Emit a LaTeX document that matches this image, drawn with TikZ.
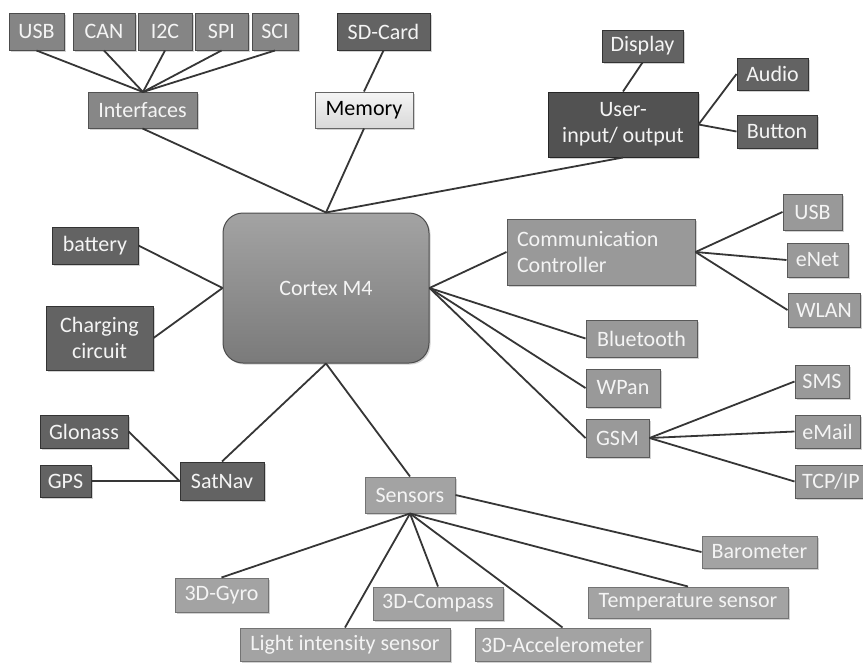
\documentclass[tikz,border=0pt]{standalone}
\usepackage{fontspec}
\setmainfont{Carlito}
\usetikzlibrary{shadows}
\definecolor{lnc}{HTML}{363636}
\definecolor{txw}{HTML}{F4F4F4}
\begin{document}
\begin{tikzpicture}[x=1pt,y=-1pt,
  base/.style={draw=#1,line width=1pt,inner sep=0pt,text=txw,
    font=\fontsize{22}{26}\selectfont,align=center,
    drop shadow={shadow xshift=1.5pt,shadow yshift=-1.5pt,fill=black!22,opacity=0.8}},
  ifbox/.style={base=black!70,fill=black!48},
  inbox/.style={base=black!68,fill=black!47},
  dkbox/.style={base=black!80,fill=black!61},
  uiobox/.style={base=black!85,fill=black!68},
  membox/.style={base=black!60,top color=black!4,bottom color=black!15,text=black},
  cpubox/.style={base=black!70,rounded corners=20pt,top color=black!36,bottom color=black!52},
  combox/.style={base=black!65,fill=black!40},
  senbox/.style={base=black!55,fill=black!36},
  link/.style={draw=lnc,line width=1.8pt}]
\clip (0,0) rectangle (863,662);
\fill[white] (0,0) rectangle (863,662);
% interfaces group
\node[ifbox,minimum width=55pt,minimum height=37pt] (usba) at (36.5,31.5) {USB};
\node[ifbox,minimum width=62pt,minimum height=37pt] (can) at (104,31.5) {CAN};
\node[ifbox,minimum width=54pt,minimum height=37pt] (itc) at (165,31.5) {I2C};
\node[ifbox,minimum width=53pt,minimum height=37pt] (spi) at (221.5,31.5) {SPI};
\node[ifbox,minimum width=46pt,minimum height=37pt] (sci) at (275,31.5) {SCI};
\node[inbox,minimum width=109pt,minimum height=36pt] (intf) at (142.5,110) {Interfaces};
\coordinate (ihub) at (143,92);
% memory
\node[dkbox,minimum width=93pt,minimum height=37pt] (sd) at (383.5,31.5) {SD-Card};
\node[membox,minimum width=98pt,minimum height=36pt] (mem) at (364,110) {Memory};
% user io
\node[dkbox,minimum width=81pt,minimum height=32pt] (disp) at (642.5,46) {Display};
\node[dkbox,minimum width=71pt,minimum height=32pt] (audio) at (772.5,74) {Audio};
\node[dkbox,minimum width=80pt,minimum height=33pt] (button) at (777,131.5) {Button};
\node[uiobox,minimum width=150pt,minimum height=65pt] (uio) at (623,124.5) {User-\\input/ output};
% cortex
\node[cpubox,minimum width=206pt,minimum height=150pt] (cpu) at (326,288) {Cortex M4};
% comm
\node[combox,minimum width=188pt,minimum height=66pt,text width=168pt,inner xsep=10pt,align=left] (comm) at (601,252) {Communication\\Controller};
\node[combox,minimum width=59pt,minimum height=36pt] (usbb) at (812.5,212) {USB};
\node[combox,minimum width=61pt,minimum height=34pt] (enet) at (817.5,260) {eNet};
\node[combox,minimum width=72pt,minimum height=34pt] (wlan) at (824,310) {WLAN};
\node[combox,minimum width=111pt,minimum height=37pt] (bt) at (641.5,338.5) {Bluetooth};
\node[combox,minimum width=74pt,minimum height=38pt] (wpan) at (623,388) {WPan};
\node[combox,minimum width=63pt,minimum height=38pt] (gsm) at (617.5,438) {GSM};
\node[combox,minimum width=54pt,minimum height=33pt] (sms) at (822,381.5) {SMS};
\node[combox,minimum width=65pt,minimum height=33pt] (email) at (827.5,431.5) {eMail};
\node[combox,minimum width=72pt,minimum height=33pt] (tcp) at (831,481.5) {TCP/IP};
% power
\node[dkbox,minimum width=86pt,minimum height=37pt] (bat) at (95,245.5) {battery};
\node[dkbox,minimum width=107pt,minimum height=64pt] (chg) at (99.5,338) {Charging\\circuit};
% satnav
\node[dkbox,minimum width=88pt,minimum height=33pt] (glo) at (84,431.5) {Glonass};
\node[dkbox,minimum width=51pt,minimum height=32pt] (gps) at (65.5,481) {GPS};
\node[dkbox,minimum width=84pt,minimum height=38pt] (sat) at (222,481) {SatNav};
% sensors
\node[senbox,minimum width=90pt,minimum height=36pt] (sens) at (410,495) {Sensors};
\node[senbox,minimum width=115pt,minimum height=32pt] (baro) at (759.5,552) {Barometer};
\node[senbox,minimum width=200pt,minimum height=31pt] (temp) at (688,602.5) {Temperature sensor};
\node[senbox,minimum width=93pt,minimum height=34pt] (gyro) at (221.5,595) {3D-Gyro};
\node[senbox,minimum width=130pt,minimum height=33pt] (comp) at (438,603.5) {3D-Compass};
\node[senbox,minimum width=210pt,minimum height=33pt] (light) at (345,644.5) {Light intensity sensor};
\node[senbox,minimum width=175pt,minimum height=33pt] (acc) at (562.5,644.5) {3D-Accelerometer};
% connectors
\foreach \n in {usba,can,itc,spi,sci} \draw[link] (\n.south) -- (ihub);
\draw[link] (sd.south) -- (mem.north);
\draw[link] (intf.south) -- (cpu.north);
\draw[link] (mem.south) -- (cpu.north);
\draw[link] (uio.south) -- (cpu.north);
\draw[link] (disp.south) -- (uio.north);
\draw[link] (uio.east) -- (audio.west);
\draw[link] (uio.east) -- (button.west);
\draw[link] (cpu.east) -- (comm.west);
\foreach \n in {usbb,enet,wlan} \draw[link] (comm.east) -- (\n.west);
\foreach \n in {bt,wpan,gsm} \draw[link] (cpu.east) -- (\n.west);
\foreach \n in {sms,email,tcp} \draw[link] (gsm.east) -- (\n.west);
\draw[link] (bat.east) -- (cpu.west);
\draw[link] (chg.east) -- (cpu.west);
\draw[link] (cpu.south) -- (sat.north);
\draw[link] (cpu.south) -- (sens.north);
\draw[link] (glo.east) -- (sat.west);
\draw[link] (gps.east) -- (sat.west);
\draw[link] (sens.east) -- (baro.west);
\foreach \n in {gyro,light,comp,acc,temp} \draw[link] (sens.south) -- (\n.north);
\end{tikzpicture}
\end{document}
